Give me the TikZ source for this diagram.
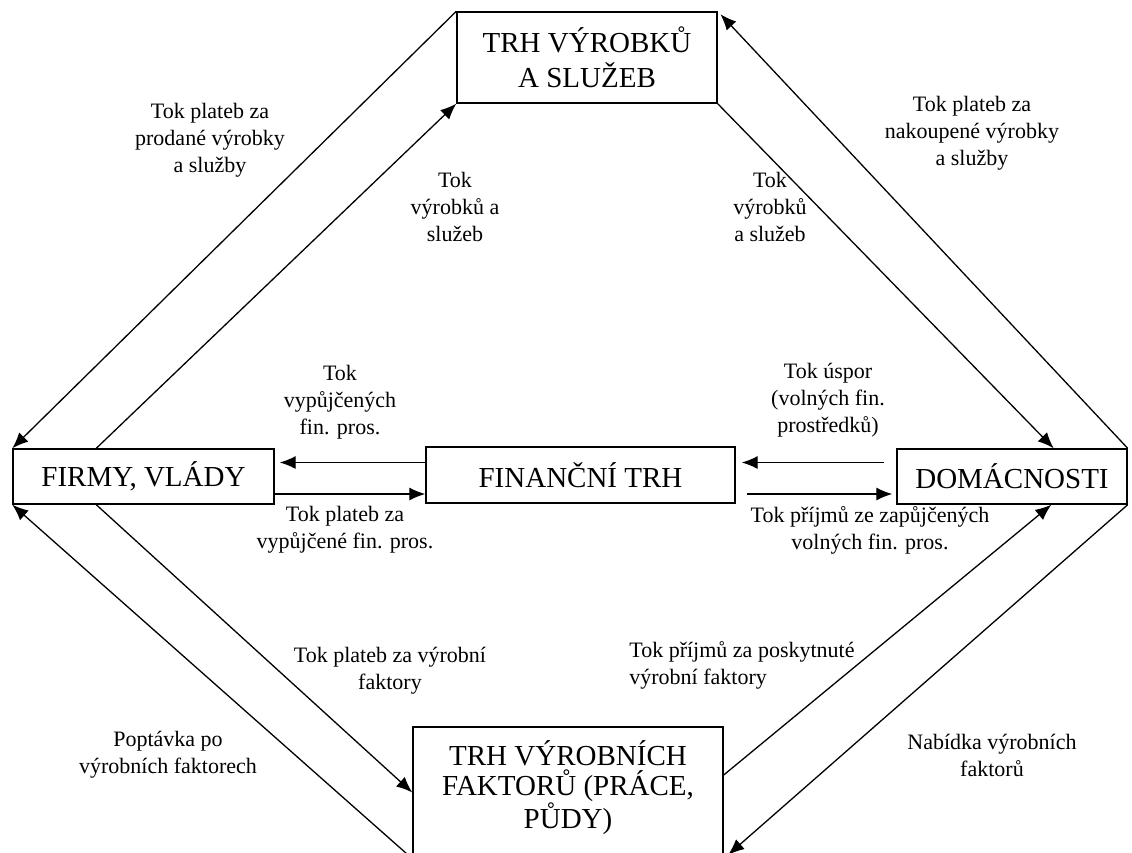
\documentclass[tikz,border=0pt]{standalone}
\usepackage{fontspec}
\setmainfont{Liberation Serif}
\usetikzlibrary{arrows.meta, calc, positioning}

\tikzset{
  market/.style={draw, line width=0.7pt, align=center, inner sep=0pt, font=\fontsize{14.5}{17.5}\selectfont},
  flow/.style={line width=0.65pt, -{Latex[length=8pt,width=6.5pt]}},
  flowlabel/.style={align=center, inner sep=1pt, font=\fontsize{11}{13.5}\selectfont},
}

\begin{document}
\begin{tikzpicture}[x=0.5pt, y=-0.5pt]
	\useasboundingbox (0,0) rectangle (1132,853);
	% boxes
	\node[market, minimum width=130pt, minimum height=45.5pt] (ts) at (587,57.5) {TRH VÝROBKŮ\\A SLUŽEB};
	\node[market, minimum width=130.5pt, minimum height=27.5pt] (firmy) at (143.5,476.5) {FIRMY, VLÁDY};
	\node[market, minimum width=154.5pt, minimum height=28pt] (fin) at (580.5,475) {FINANČNÍ TRH};
	\node[market, minimum width=115pt, minimum height=27.5pt] (dom) at (1012,476.5) {DOMÁCNOSTI};
	\node[market, minimum width=155pt, minimum height=65.5pt, text depth=8pt, font=\fontsize{14.5}{15}\selectfont] (vf) at (568,792.5) {TRH VÝROBNÍCH\\FAKTORŮ (PRÁCE,\\PŮDY)};
	% upper half
	\draw[flow] (ts.north west) -- (firmy.north west);
	\draw[flow] ($(firmy.north west)!0.32!(firmy.north east)$) -- (ts.south west);
	\draw[flow] (ts.south east) -- ($(dom.north west)!0.68!(dom.north east)$);
	\draw[flow, shorten >=2pt] (dom.north east) -- (ts.north east);
	% financial market
	\draw[flow, shorten >=2.5pt] ([yshift=6.25pt]fin.west) -- ([yshift=6.25pt]fin.west -| firmy.east);
	\draw[flow] ([yshift=-9.5pt]fin.west -| firmy.east) -- ([yshift=-9.5pt]fin.west);
	\draw[flow, shorten <=6pt, shorten >=3pt] ([yshift=6.25pt]fin.east -| dom.west) -- ([yshift=6.25pt]fin.east);
	\draw[flow, shorten <=5.5pt, shorten >=2pt] ([yshift=-9.5pt]fin.east) -- ([yshift=-9.5pt]fin.east -| dom.west);
	% lower half
	\draw[flow] (vf.south west) -- (firmy.south west);
	\draw[flow] ($(firmy.south west)!0.32!(firmy.south east)$) -- (vf.west);
	\draw[flow] ([yshift=8.75pt]vf.east) -- ($(dom.south west)!0.67!(dom.south east)$);
	\draw[flow, shorten >=3pt] (dom.south east) -- (vf.south east);
	% labels
	\node[flowlabel] (lsold) at (210,140) {Tok plateb za\\prodané výrobky\\a služby};
	\node[flowlabel] (lgoodsl) at (455,207) {Tok\\výrobků a\\služeb};
	\node[flowlabel] (lgoodsr) at (770,207) {Tok\\výrobků\\a služeb};
	\node[flowlabel] (lbought) at (972,133) {Tok plateb za\\nakoupené výrobky\\a služby};
	\node[flowlabel] (lborrow) at (340,402) {Tok\\vypůjčených\\fin. pros.};
	\node[flowlabel] (lsave) at (828,400) {Tok úspor\\(volných fin.\\prostředků)};
	\node[flowlabel] (lrepay) at (345,530) {Tok plateb za\\vypůjčené fin. pros.};
	\node[flowlabel] (linterest) at (870,530) {Tok příjmů ze zapůjčených\\volných fin. pros.};
	\node[flowlabel] (lfactpay) at (390,671) {Tok plateb za výrobní\\faktory};
	\node[flowlabel] (ldemand) at (168,755) {Poptávka po\\výrobních faktorech};
	\node[flowlabel, align=left, anchor=west] (lincome) at (627,665) {Tok příjmů za poskytnuté\\výrobní faktory};
	\node[flowlabel] (lsupply) at (992,755) {Nabídka výrobních\\faktorů};
\end{tikzpicture}
\end{document}
